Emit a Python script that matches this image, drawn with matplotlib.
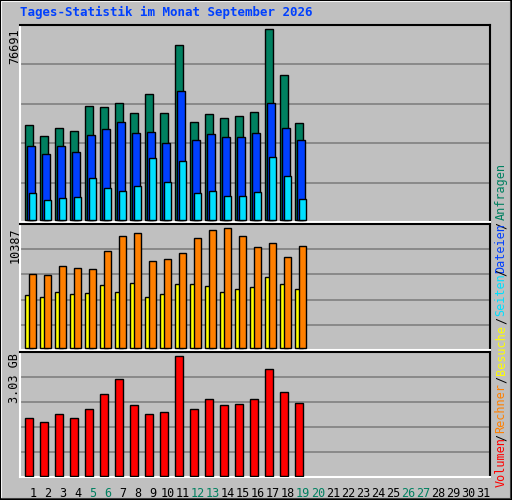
import matplotlib
matplotlib.use("Agg")
import matplotlib.pyplot as plt
from matplotlib.lines import Line2D

days = list(range(1, 20))
anfragen = [38143, 33726, 36938, 35734, 45771, 45370, 46976, 42961, 50589, 42961, 70263, 39347, 42559, 40953, 41756, 43362, 76691, 58218, 38946]
dateien = [29711, 26499, 29711, 27302, 34128, 36537, 39347, 34931, 35332, 30916, 51794, 32120, 34529, 33325, 33325, 34931, 46976, 36938, 32120]
seiten = [10841, 8030, 8833, 9235, 16863, 12848, 11644, 13651, 24893, 15257, 23689, 10841, 11644, 9636, 9636, 11242, 25295, 17666, 8432]
besuche = [4588, 4415, 4847, 4674, 4761, 5453, 4847, 5626, 4415, 4674, 5540, 5540, 5367, 4847, 5107, 5280, 6146, 5540, 5107]
rechner = [6405, 6319, 7098, 6925, 6838, 8396, 9695, 9954, 7531, 7704, 8223, 9522, 10214, 10387, 9695, 8743, 9089, 7877, 8829]
volumen_gb = [1.46, 1.36, 1.56, 1.46, 1.69, 2.07, 2.45, 1.79, 1.56, 1.61, 3.03, 1.69, 1.94, 1.79, 1.81, 1.94, 2.70, 2.12, 1.84]
weekend_days = [5, 6, 12, 13, 19, 20, 26, 27]
all_days = list(range(1, 32))

BG = "#C0C0C0"
W, H = 512, 500
fig = plt.figure(figsize=(W/100, H/100), dpi=100, facecolor=BG)
mono = "DejaVu Sans Mono"

def mk_ax(top, bot):
    ax = fig.add_axes([20/W, (H-bot)/H, 470/W, (bot-top)/H])
    ax.set_facecolor(BG)
    ax.set_xlim(0.133, 31.47)
    for f in [0.2, 0.4, 0.6, 0.8]:
        ax.plot([0, 1], [f, f], color="#808080", lw=1.2, transform=ax.transAxes, zorder=0)
    ax.set_xticks([]); ax.set_yticks([])
    for s in ["left", "bottom"]:
        ax.spines[s].set_color("white"); ax.spines[s].set_linewidth(1.5)
    for s in ["top", "right"]:
        ax.spines[s].set_color("black"); ax.spines[s].set_linewidth(1.5)
    return ax

def bars(ax, vals, off, w, col):
    ax.bar([d + off for d in days], vals, width=w, align="edge", color=col, edgecolor="black", linewidth=1, zorder=3)

ax1 = mk_ax(25, 222)
ax1.set_ylim(-683, 78417)
bars(ax1, anfragen, -0.51, 0.49, "#008060")
bars(ax1, dateien, -0.38, 0.49, "#0040FF")
bars(ax1, seiten, -0.25, 0.47, "#00E0FF")

ax2 = mk_ax(224, 350)
ax2.set_ylim(-147, 10759)
bars(ax2, besuche, -0.51, 0.48, "#FFFF00")
bars(ax2, rechner, -0.25, 0.47, "#FF8000")

ax3 = mk_ax(352, 477)
ax3.set_ylim(-0.033, 3.139)
bars(ax3, volumen_gb, -0.51, 0.49, "#FF0000")

for d in all_days:
    ax3.text(d, -0.08, str(d), transform=ax3.get_xaxis_transform(), ha="center", va="top",
             fontsize=8.5, family=mono, color="#008060" if d in weekend_days else "black")

fig.text(15/W, 1-28/H, "76691", rotation=90, ha="center", va="top", fontsize=8.5, family=mono)
fig.text(15/W, 1-227/H, "10387", rotation=90, ha="center", va="top", fontsize=8.5, family=mono)
fig.text(15/W, 1-353/H, "3.03 GB", rotation=90, ha="center", va="top", fontsize=8.5, family=mono)

fig.text(20/W, 1-12/H, "Tages-Statistik im Monat September 2026", ha="left", va="center",
         fontsize=9, family=mono, weight="bold", color="#0040FF")

parts = [("Anfragen", 192, "#008060"), ("/", 225, "black"), ("Dateien", 248, "#0040FF"), ("/", 272, "black"),
         ("Seiten", 295, "#00E0FF"), ("/", 320, "black"), ("Besuche", 350, "#FFFF00"), ("/", 379, "black"),
         ("Rechner", 408, "#FF8000"), ("/", 437, "black"), ("Volumen", 462, "#FF0000")]
for t, y, c in parts:
    fig.text(501/W, 1-y/H, t, rotation=90, ha="center", va="center", fontsize=8.5, family=mono, color=c)

fig.add_artist(Line2D([1/W, 1/W, 511/W], [1/H, 499/H, 499/H], color="white", lw=1.5, transform=fig.transFigure))
fig.add_artist(Line2D([1/W, 511/W, 511/W], [1/H, 1/H, 499/H], color="#404040", lw=1.5, transform=fig.transFigure))
fig.add_artist(Line2D([0, 0, 1, 1, 0], [0, 1, 1, 0, 0], color="black", lw=1.5, transform=fig.transFigure))

fig.savefig("out.png", dpi=100, facecolor=BG)
